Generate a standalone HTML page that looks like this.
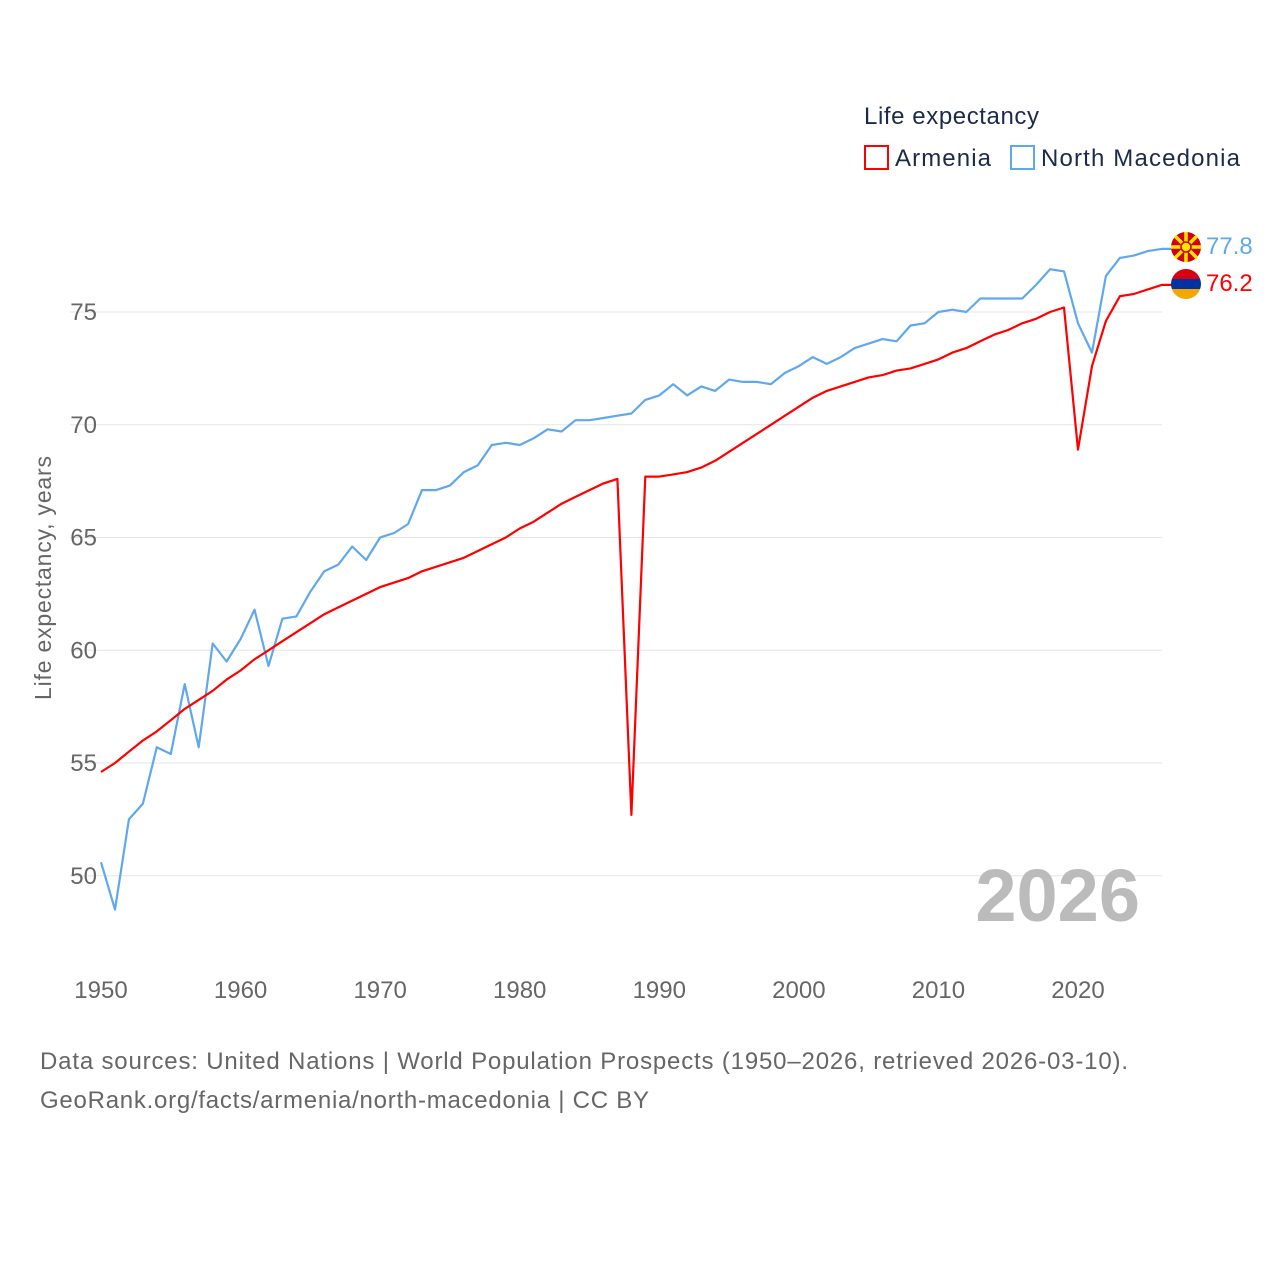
<!DOCTYPE html>
<html><head><meta charset="utf-8"><style>
body{margin:0;background:#fff;font-family:"Liberation Sans",sans-serif;}
svg text{font-family:"Liberation Sans",sans-serif;}
</style></head><body>
<svg id="chart" width="1280" height="1280" xmlns="http://www.w3.org/2000/svg">
<rect width="1280" height="1280" fill="#fff"/>
<g id="grid"></g>
<g id="yticks"></g>
<g id="xticks"></g>
<text x="51" y="578" transform="rotate(-90 51 578)" text-anchor="middle" font-size="23" fill="#666" textLength="244">Life expectancy, years</text>
<text x="1140" y="921" text-anchor="end" font-size="74" font-weight="bold" fill="#bbb">2026</text>
<g id="series"></g>
<g>
<text x="864" y="124" font-size="24" fill="#1c2a4a" textLength="175">Life expectancy</text>
<rect x="865" y="146" width="23" height="23" fill="none" stroke="#f00" stroke-width="2"/>
<text x="895" y="166" font-size="24" fill="#1c2a4a" textLength="96">Armenia</text>
<rect x="1011" y="146" width="23" height="23" fill="none" stroke="#5fa8ee" stroke-width="2"/>
<text x="1041" y="166" font-size="24" fill="#1c2a4a" textLength="199">North Macedonia</text>
</g>
<g>
<circle cx="1186" cy="247" r="15" fill="#d20000"/>
<g stroke="#ffe600" stroke-width="3.5">
<line x1="1171" y1="247" x2="1201" y2="247"/><line x1="1186" y1="232" x2="1186" y2="262"/>
<line x1="1175" y1="236" x2="1197" y2="258"/><line x1="1197" y1="236" x2="1175" y2="258"/>
</g>
<circle cx="1186" cy="247" r="5" fill="#ffe600" stroke="#d20000" stroke-width="1.5"/>
</g>
<g>
<clipPath id="cp"><circle cx="1186" cy="284" r="15"/></clipPath>
<g clip-path="url(#cp)">
<rect x="1170" y="269" width="32" height="10" fill="#d90012"/>
<rect x="1170" y="279" width="32" height="10" fill="#0033a0"/>
<rect x="1170" y="289" width="32" height="11" fill="#f2a800"/>
</g></g>
<text x="1206" y="254" font-size="24" fill="#5fa8ee">77.8</text>
<text x="1206" y="291" font-size="24" fill="#f00">76.2</text>
<text x="40" y="1069" font-size="24" fill="#666" textLength="1088">Data sources: United Nations | World Population Prospects (1950–2026, retrieved 2026-03-10).</text>
<text x="40" y="1108" font-size="24" fill="#666" textLength="609">GeoRank.org/facts/armenia/north-macedonia | CC BY</text>
</svg>
<script>
const startYear = 1950;
const armenia = [54.6,55.0,55.5,56.0,56.4,56.9,57.4,57.8,58.2,58.7,59.1,59.6,60.0,60.4,60.8,61.2,61.6,61.9,62.2,62.5,62.8,63.0,63.2,63.5,63.7,63.9,64.1,64.4,64.7,65.0,65.4,65.7,66.1,66.5,66.8,67.1,67.4,67.6,52.7,67.7,67.7,67.8,67.9,68.1,68.4,68.8,69.2,69.6,70.0,70.4,70.8,71.2,71.5,71.7,71.9,72.1,72.2,72.4,72.5,72.7,72.9,73.2,73.4,73.7,74.0,74.2,74.5,74.7,75.0,75.2,68.9,72.6,74.6,75.7,75.8,76.0,76.2];
const northMacedonia = [50.6,48.5,52.5,53.2,55.7,55.4,58.5,55.7,60.3,59.5,60.5,61.8,59.3,61.4,61.5,62.6,63.5,63.8,64.6,64.0,65.0,65.2,65.6,67.1,67.1,67.3,67.9,68.2,69.1,69.2,69.1,69.4,69.8,69.7,70.2,70.2,70.3,70.4,70.5,71.1,71.3,71.8,71.3,71.7,71.5,72.0,71.9,71.9,71.8,72.3,72.6,73.0,72.7,73.0,73.4,73.6,73.8,73.7,74.4,74.5,75.0,75.1,75.0,75.6,75.6,75.6,75.6,76.2,76.9,76.8,74.5,73.2,76.6,77.4,77.5,77.7,77.8];
const yTicks = [50,55,60,65,70,75];
const xTicks = [1950,1960,1970,1980,1990,2000,2010,2020];

const NS = "http://www.w3.org/2000/svg";
const x = yr => 101 + (yr - 1950) * (1078 - 101) / 70;
const y = v => 312 + (75 - v) * 22.55;
function mk(tag, attrs, parent){const e=document.createElementNS(NS,tag);for(const k in attrs)e.setAttribute(k,attrs[k]);parent.appendChild(e);return e;}
const grid=document.getElementById('grid'), yt=document.getElementById('yticks'), xt=document.getElementById('xticks'), ser=document.getElementById('series');
yTicks.forEach(v=>{
  const l=mk('line',{x1:70,x2:1162,y1:y(v),y2:y(v),stroke:'#e6e6e6','stroke-width':1},grid);
  
  
  const t=mk('text',{x:97,y:y(v)+8,'text-anchor':'end','font-size':24,fill:'#666'},yt);
  t.textContent=v;
  
  
});
xTicks.forEach(v=>{
  const t=mk('text',{x:x(v),y:998,'text-anchor':'middle','font-size':24,fill:'#666'},xt);
  t.textContent=v;
  
  
});
function line(data,color,name){
  const pts=data.map((v,i)=>x(startYear+i).toFixed(1)+','+y(v).toFixed(1));
  const last=data[data.length-1];
  pts.push((x(startYear+data.length-1)+10).toFixed(1)+','+y(last).toFixed(1));
  const p=mk('polyline',{points:pts.join(' '),fill:'none',stroke:color,'stroke-width':2.2,'stroke-linejoin':'round'},ser);
  
  
}
line(northMacedonia,'#5fa8ee','line-north-macedonia');
line(armenia,'#ff0000','line-armenia');
</script>
</body></html>
